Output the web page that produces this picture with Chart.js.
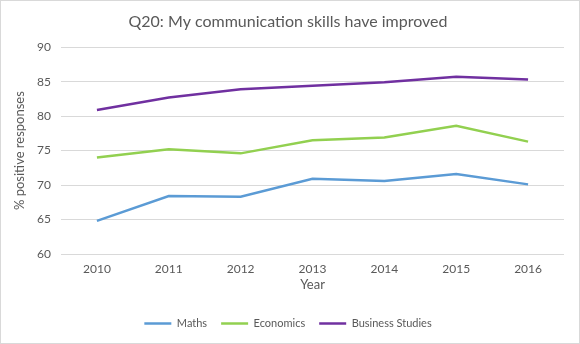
<!DOCTYPE html>
<html>
<head>
<meta charset="utf-8">
<script src="https://cdn.jsdelivr.net/npm/chart.js@4"></script>
<style>
    html, body { margin: 0; padding: 0; background: #fff; }
    #wrap { position: relative; width: 580px; height: 344px; box-sizing: border-box; border: 1px solid #D9D9D9; }
</style>
</head>
<body>
<div id="wrap"><canvas id="chart"></canvas></div>
<script>
const years = ['2010', '2011', '2012', '2013', '2014', '2015', '2016'];
const maths = [64.8, 68.4, 68.3, 70.9, 70.6, 71.6, 70.1];
const economics = [74.0, 75.2, 74.6, 76.5, 76.9, 78.6, 76.3];
const businessStudies = [80.9, 82.7, 83.9, 84.4, 84.9, 85.7, 85.3];

const textColor = '#595959';
const fontFamily = 'Lato, "Liberation Sans", sans-serif';

function lineSet(label, data, color) {
    return {
        label: label,
        data: data,
        borderColor: color,
        backgroundColor: color,
        borderWidth: 2.5,
        pointRadius: 0,
        pointHoverRadius: 0,
        tension: 0,
        fill: false
    };
}

new Chart(document.getElementById('chart'), {
    type: 'line',
    data: {
        labels: years,
        datasets: [
            lineSet('Maths', maths, '#5B9BD5'),
            lineSet('Economics', economics, '#92D050'),
            lineSet('Business Studies', businessStudies, '#7030A0')
        ]
    },
    options: {
        responsive: true,
        maintainAspectRatio: false,
        animation: false,
        layout: { padding: { left: 11, right: 15, top: 6, bottom: 4 } },
        scales: {
            x: {
                offset: true,
                grid: { display: false, drawTicks: false },
                border: { display: false },
                ticks: { color: textColor, font: { family: fontFamily, size: 12 }, padding: 8 },
                title: { display: true, text: 'Year', color: textColor, font: { family: fontFamily, size: 13 }, padding: { top: 11, bottom: 11 } },
                afterFit: function(scale) { scale.height = 50; }
            },
            y: {
                min: 60,
                max: 90,
                ticks: { stepSize: 5, color: textColor, font: { family: fontFamily, size: 12 }, padding: 10 },
                grid: { color: '#D9D9D9', drawTicks: false },
                border: { display: false },
                title: { display: true, text: '% positive responses', color: textColor, font: { family: fontFamily, size: 13 }, padding: { top: 0, bottom: 0 } },
                afterFit: function(scale) { scale.width = 49; }
            }
        },
        plugins: {
            title: {
                display: true,
                text: 'Q20: My communication skills have improved',
                color: textColor,
                font: { family: fontFamily, size: 16, weight: 'normal' },
                padding: { top: 5, bottom: 16 }
            },
            legend: {
                position: 'bottom',
                labels: {
                    usePointStyle: true,
                    pointStyle: 'line',
                    pointStyleWidth: 27,
                    color: textColor,
                    font: { family: fontFamily, size: 11 },
                    padding: 14
                }
            },
            tooltip: { enabled: false }
        }
    }
});
</script>
</body>
</html>
